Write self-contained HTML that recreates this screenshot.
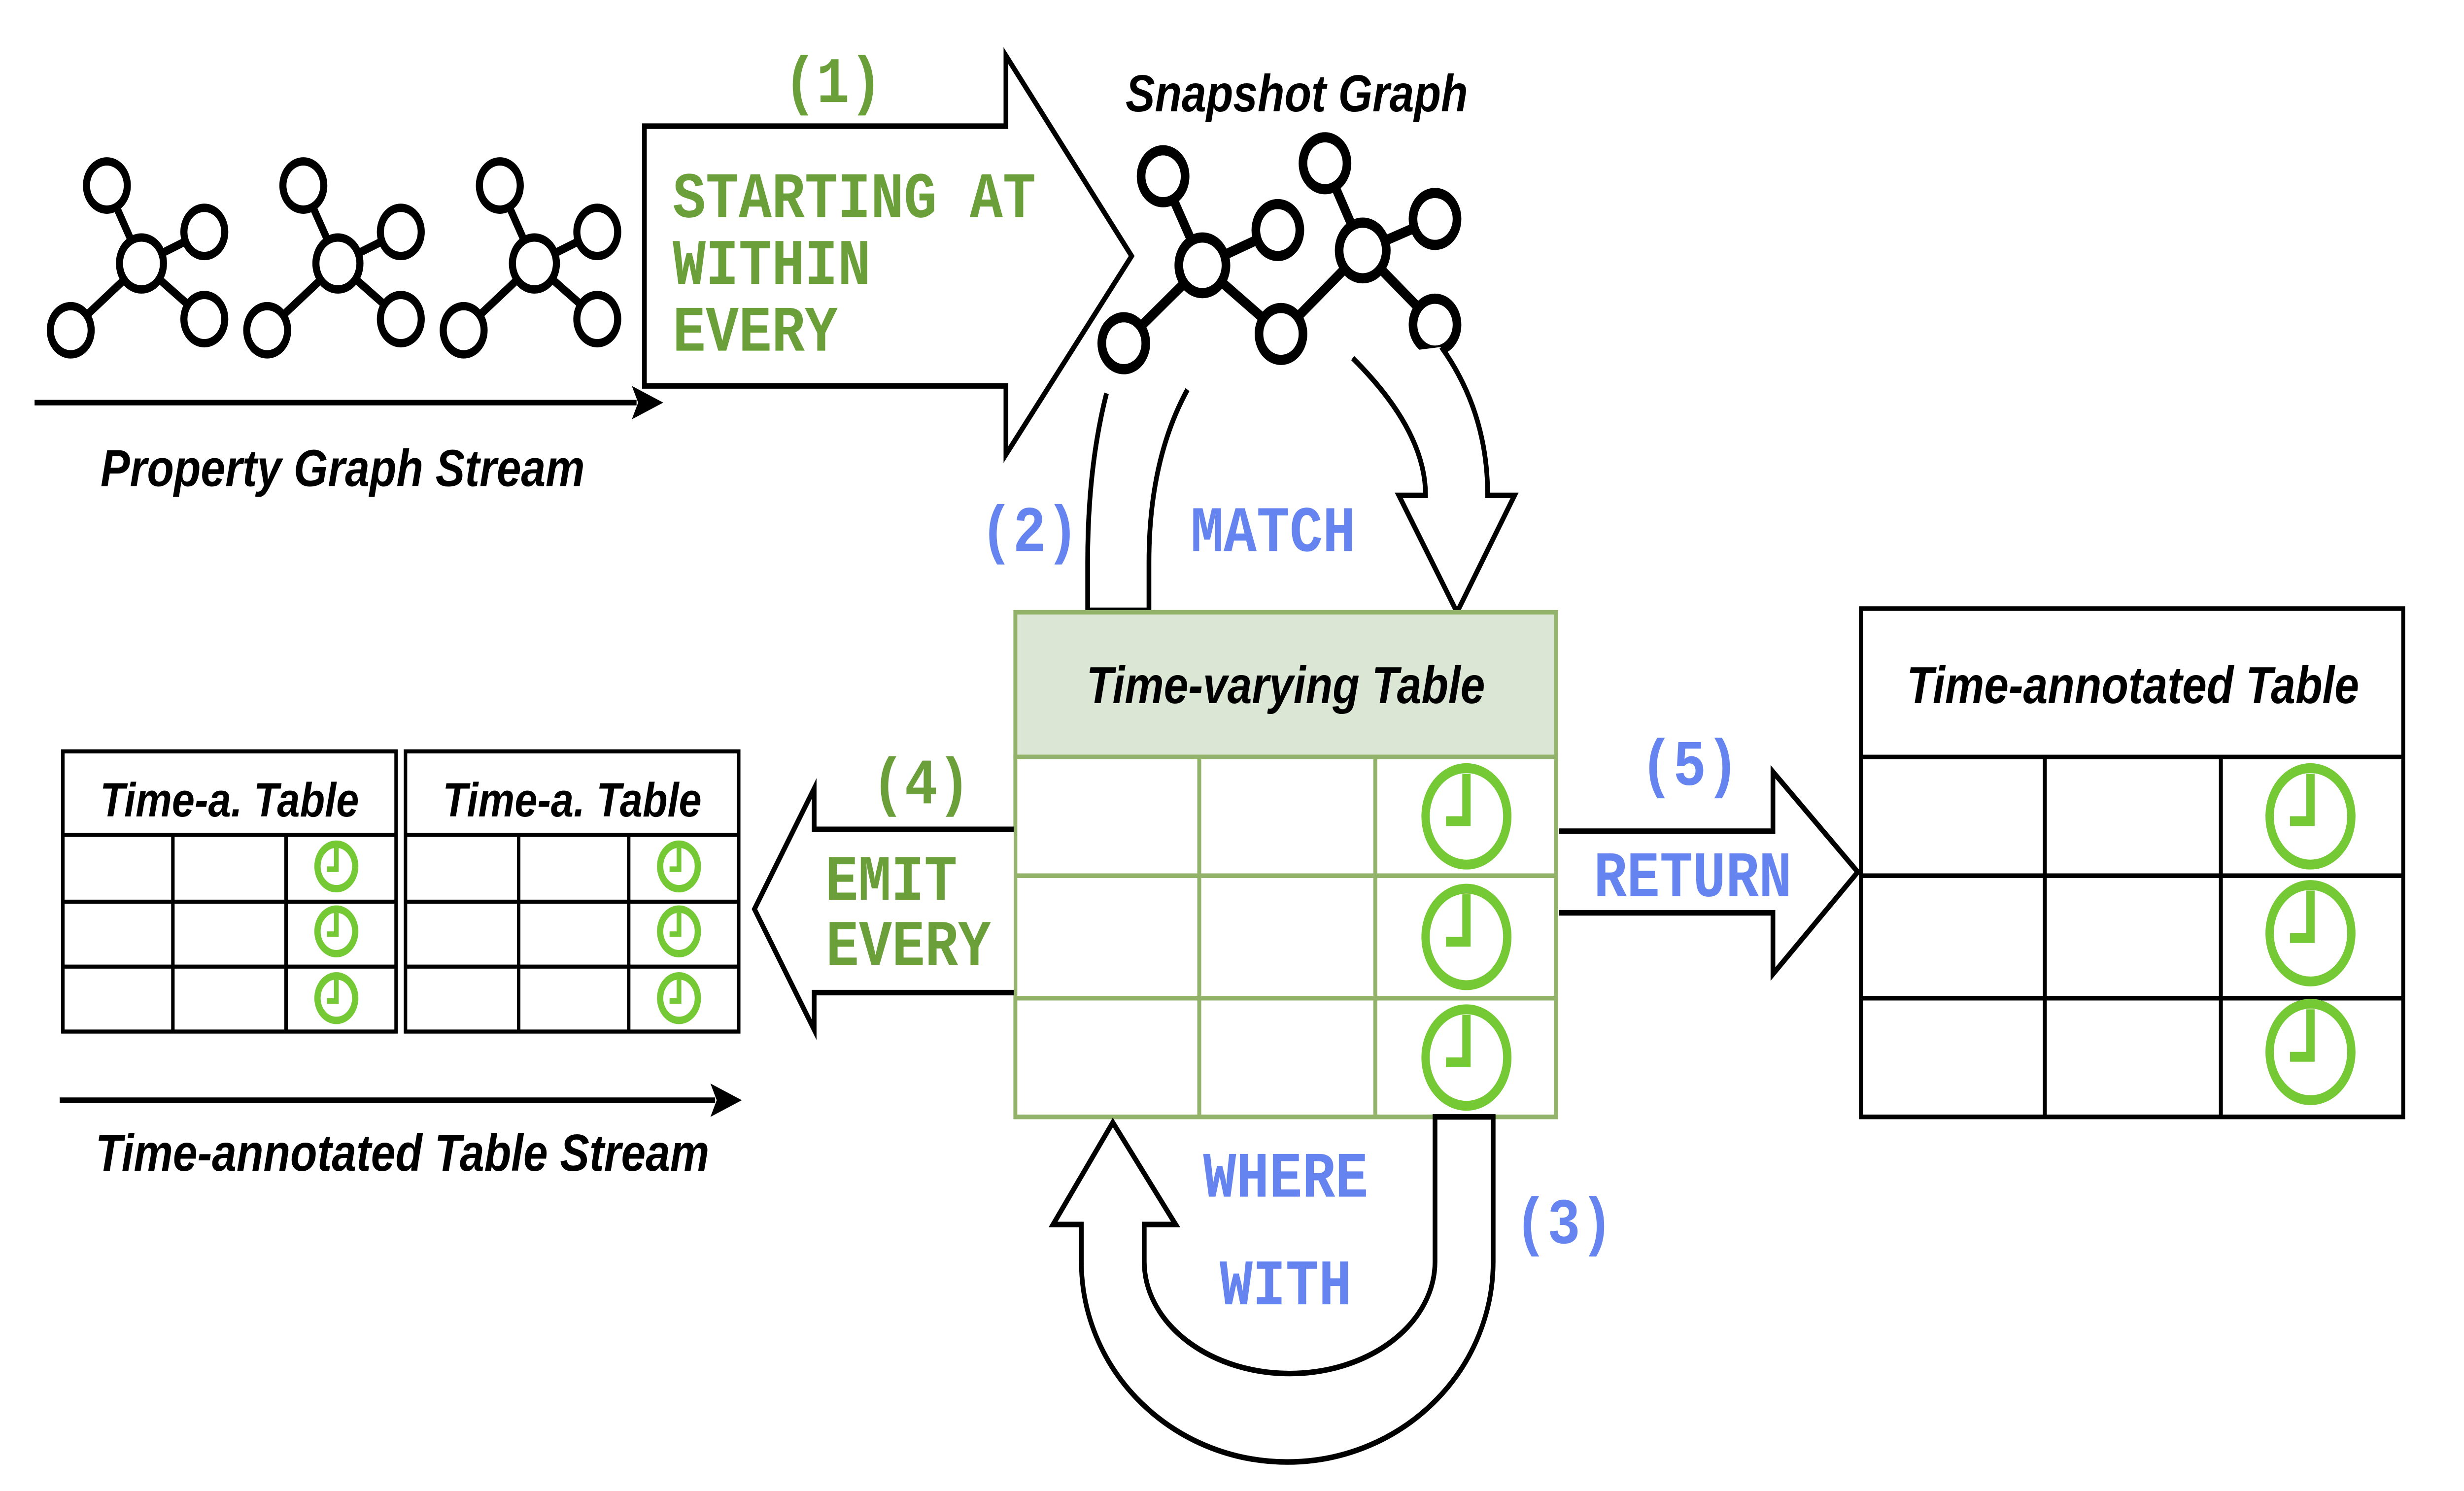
<!DOCTYPE html>
<html><head><meta charset="utf-8"><style>html,body{margin:0;padding:0;background:#fff;overflow:hidden}svg{display:block;width:100vw;height:100vh}</style></head><body>
<svg viewBox="0 0 1552 795.6" preserveAspectRatio="none" xmlns="http://www.w3.org/2000/svg">
<defs>
<g id="clk"><circle r="26" fill="none" stroke="#74c934" stroke-width="5.3"/><path d="M0,-23 V2.6 H-13" fill="none" stroke="#74c934" stroke-width="5.3"/></g>
<g id="clks"><circle r="12" fill="none" stroke="#74c934" stroke-width="4"/><path d="M0,-10 V1.5 H-6" fill="none" stroke="#74c934" stroke-width="3"/></g>
<g id="g1" stroke="#000" stroke-width="4.5" fill="#fff">
<line x1="68" y1="100" x2="90" y2="142"/><line x1="130" y1="125" x2="90" y2="142"/><line x1="130" y1="172" x2="90" y2="142"/><line x1="45" y1="178" x2="90" y2="142"/>
<circle cx="90" cy="142" r="14"/><circle cx="68" cy="100" r="13"/><circle cx="130" cy="125" r="13"/><circle cx="130" cy="172" r="13"/><circle cx="45" cy="178" r="13"/>
</g>
</defs>
<g transform="scale(0.99)">
<g font-family="Liberation Sans, sans-serif" font-weight="bold" font-style="italic" font-size="28" fill="#000">
<use href="#g1"/><use href="#g1" x="125"/><use href="#g1" x="250"/>
<line x1="22" y1="217" x2="405" y2="217" stroke="#000" stroke-width="3"/><path d="M422,217 L402,208 L406,217 L402,226Z"/>
<text x="218" y="262" text-anchor="middle">Property Graph Stream</text>
<path d="M410,68 H640 V30 L720,138 L640,245 V208 H410Z" fill="#fff" stroke="#000" stroke-width="3"/>
<text x="825" y="60" text-anchor="middle">Snapshot Graph</text>
<g stroke="#000" stroke-width="5.5" fill="#fff">
<line x1="740" y1="95" x2="765" y2="143"/><line x1="765" y1="143" x2="813" y2="124"/><line x1="765" y1="143" x2="715" y2="185"/><line x1="765" y1="143" x2="815" y2="180"/><line x1="815" y1="180" x2="867" y2="135"/><line x1="867" y1="135" x2="843" y2="88"/><line x1="867" y1="135" x2="913" y2="118"/><line x1="867" y1="135" x2="913" y2="175"/>
<circle cx="765" cy="143" r="15"/><circle cx="740" cy="95" r="14"/><circle cx="813" cy="124" r="14"/><circle cx="715" cy="185" r="14"/><circle cx="815" cy="180" r="14"/><circle cx="843" cy="88" r="14"/><circle cx="867" cy="135" r="15"/><circle cx="913" cy="118" r="14"/><circle cx="913" cy="175" r="14"/>
</g>
<path d="M704,212 Q692,252 692,303 V329 H731 V303 Q731,248 755.5,210" fill="#fff" stroke="#000" stroke-width="3"/>
<path d="M860.6,193 Q907,232 907,267 H890 L927,330 L963.6,267 H946.5 Q946.5,222 917,187" fill="#fff" stroke="#000" stroke-width="3"/>
<rect x="646" y="330" width="344" height="78" fill="#dbe6d5" stroke="#93b36b" stroke-width="2.5"/>
<rect x="646" y="408" width="344" height="194" fill="#fff" stroke="#93b36b" stroke-width="2.5"/>
<path d="M646,472 H990 M646,538 H990 M763,408 V602 M875,408 V602" stroke="#93b36b" stroke-width="2.5"/>
<text x="818" y="379" text-anchor="middle">Time-varying Table</text>
<use href="#clk" x="933" y="440"/><use href="#clk" x="933" y="505"/><use href="#clk" x="933" y="570"/>
<path d="M645,447 H518 V425 L480,490 L518,555 V535 H645" fill="#fff" stroke="#000" stroke-width="3"/>
<path d="M992,448 H1128 V416 L1182,470 L1128,525 V492 H992" fill="#fff" stroke="#000" stroke-width="3"/>
<rect x="1184" y="328" width="345" height="274" fill="#fff" stroke="#000" stroke-width="2.5"/>
<path d="M1184,408 H1529 M1184,472 H1529 M1184,538 H1529 M1301,408 V602 M1413,408 V602" stroke="#000" stroke-width="2.5"/>
<text x="1357" y="379" text-anchor="middle">Time-annotated Table</text>
<use href="#clk" x="1470" y="440"/><use href="#clk" x="1470" y="503"/><use href="#clk" x="1470" y="567"/>
<g stroke="#000" stroke-width="2.2" fill="none">
<rect x="40" y="405" width="212" height="151"/><path d="M40,450 H252 M40,486 H252 M40,521 H252 M110,450 V556 M182,450 V556"/>
<rect x="258" y="405" width="212" height="151"/><path d="M258,450 H470 M258,486 H470 M258,521 H470 M330,450 V556 M400,450 V556"/>
</g>
<text x="146" y="440" text-anchor="middle" font-size="26">Time-a. Table</text>
<text x="364" y="440" text-anchor="middle" font-size="26">Time-a. Table</text>
<use href="#clks" x="214" y="467"/><use href="#clks" x="214" y="502"/><use href="#clks" x="214" y="538"/>
<use href="#clks" x="432" y="467"/><use href="#clks" x="432" y="502"/><use href="#clks" x="432" y="538"/>
<line x1="38" y1="593" x2="455" y2="593" stroke="#000" stroke-width="3"/><path d="M472,593 L452,584 L456,593 L452,602Z"/>
<text x="256" y="631" text-anchor="middle">Time-annotated Table Stream</text>
<path d="M913,602 V680 A92,60 0 0 1 728,680 V660 H748 L708,605 L670,660 H688 V680 A131,108 0 0 0 950,680 V602Z" fill="#fff" stroke="#000" stroke-width="3"/>
</g>
<g font-family="Liberation Mono, monospace" font-weight="bold" font-size="35">
<g fill="#6a9f3a">
<text x="530" y="55" text-anchor="middle">(1)</text>
<text x="428" y="117">STARTING AT</text>
<text x="428" y="153">WITHIN</text>
<text x="428" y="189">EVERY</text>
<text x="586" y="433" text-anchor="middle">(4)</text>
<text x="567" y="485" text-anchor="middle">EMIT</text>
<text x="578" y="520" text-anchor="middle">EVERY</text>
</g>
<g fill="#6584f0">
<text x="655" y="297" text-anchor="middle">(2)</text>
<text x="810" y="297" text-anchor="middle">MATCH</text>
<text x="1075" y="423" text-anchor="middle">(5)</text>
<text x="1077" y="483" text-anchor="middle">RETURN</text>
<text x="818" y="645" text-anchor="middle">WHERE</text>
<text x="818" y="703" text-anchor="middle">WITH</text>
<text x="995" y="670" text-anchor="middle">(3)</text>
</g>
</g>
</g>
</svg>
</body></html>
